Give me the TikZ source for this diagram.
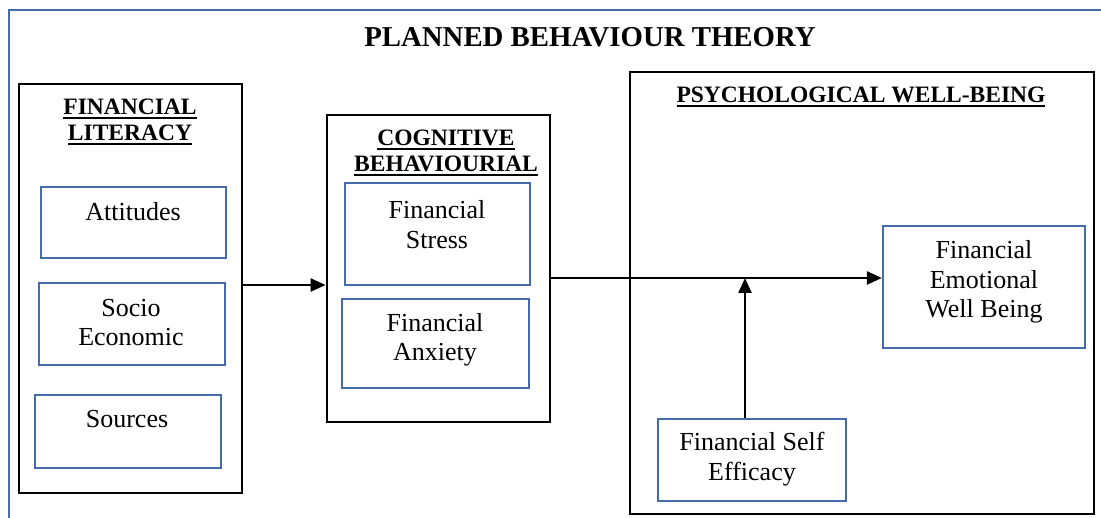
\documentclass[tikz,border=0pt]{standalone}
\usepackage{fontspec}
\setmainfont{Liberation Serif}
\usetikzlibrary{arrows.meta}
\definecolor{frameblue}{RGB}{68,108,170}
\newcommand\hul[1]{\setbox0\hbox{#1}\rlap{\rule[-3.8pt]{\wd0}{2pt}}\box0}
\tikzset{
  grp/.style={draw=black, line width=2.8pt, inner sep=0pt},
  bbox/.style={draw=frameblue, line width=2.2pt, inner sep=0pt},
  txt/.style={align=center, inner sep=0pt, font=\fontsize{26}{29.5}\selectfont},
  head/.style={align=center, inner sep=0pt, font=\fontsize{23.5}{26}\selectfont\bfseries},
  arr/.style={line width=2.4pt, -{Triangle[length=15pt,width=13pt]}},
}
\begin{document}
\begin{tikzpicture}[x=1pt,y=-1pt]
\useasboundingbox (0,0) rectangle (1101,518);
% outer frame
\draw[frameblue, line width=2.2pt] (9,525) -- (9,10) -- (1110,10);
\node[inner sep=0pt, font=\fontsize{28.8}{32}\selectfont\bfseries] (title) at (590,37) {PLANNED BEHAVIOUR THEORY};

% group boxes
\node[grp, minimum width=223, minimum height=409] (fl) at (130.5,288.5) {};
\node[grp, minimum width=223, minimum height=307] (cog) at (438.5,268.5) {};
\node[grp, minimum width=464, minimum height=442] (pwb) at (862,293) {};

\node[head] (flh) at (130,122) {\hul{FINANCIAL}\\\hul{LITERACY}};
\node[head] (cogh) at (446,153) {\hul{COGNITIVE}\\\hul{BEHAVIOURIAL}};
\node[head] (pwbh) at (861,97) {\hul{PSYCHOLOGICAL WELL-BEING}};

% inner boxes
\node[bbox, minimum width=185, minimum height=71] (att) at (133.5,222.5) {};
\node[txt] at (133,212) {Attitudes};
\node[bbox, minimum width=186, minimum height=82] (soc) at (132,324) {};
\node[txt] at (131,322.5) {Socio\\Economic};
\node[bbox, minimum width=186, minimum height=73] (src) at (128,431.5) {};
\node[txt] at (127,419.5) {Sources};

\node[bbox, minimum width=185, minimum height=102] (fs) at (437.5,234) {};
\node[txt] at (437,224.5) {Financial\\Stress};
\node[bbox, minimum width=187, minimum height=89] (fa) at (435.5,343.5) {};
\node[txt] at (435,340) {Financial\\Anxiety};

\node[bbox, minimum width=202, minimum height=122] (few) at (984,287) {};
\node[txt] at (984,282) {Financial\\Emotional\\Well Being};
\node[bbox, minimum width=188, minimum height=82] (fse) at (752,460) {};
\node[txt] at (752,459) {Financial Self\\Efficacy};

% connectors
\coordinate (a1) at (242,285);
\draw[arr] (a1) -- (a1 -| cog.west);
\coordinate (m) at (745,278);
\draw[arr] (m -| cog.east) -- (m -| few.west);
\draw[arr] (m |- fse.north) -- (m);
\end{tikzpicture}
\end{document}
